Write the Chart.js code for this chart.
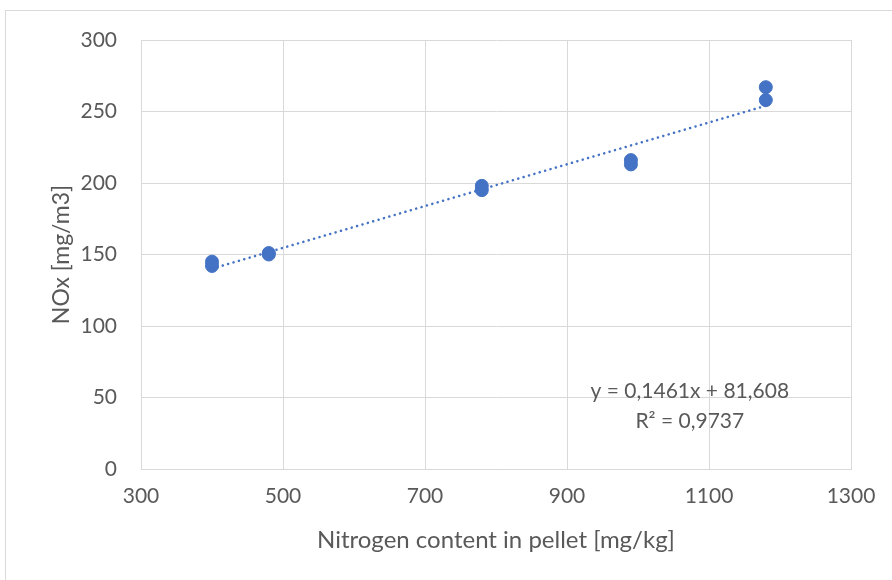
<!DOCTYPE html>
<html>
<head>
<meta charset="utf-8">
<script src="https://cdn.jsdelivr.net/npm/chart.js@4/dist/chart.umd.min.js"></script>
<style>
  html, body { margin: 0; padding: 0; background: #fff; }
  #wrap { position: relative; width: 892px; height: 580px; overflow: hidden; }
  #frame { position: absolute; left: 5px; top: 10px; width: 900px; height: 600px; border: 1px solid #d9d9d9; box-sizing: border-box; }
  canvas { position: absolute; left: 0; top: 0; }
</style>
</head>
<body>
<div id="wrap">
  <div id="frame"></div>
  <canvas id="chart" width="892" height="580"></canvas>
</div>
<script>
/* ── Data ─────────────────────────────────────────────────── */
const nitrogen = [400, 400, 480, 480, 780, 780, 990, 990, 1180, 1180];
const noxValues = [145, 142, 151, 150, 198, 195, 216, 213, 267, 258];

/* ── Linear trend (coefficients as printed on the chart) ──── */
const SLOPE     = 0.1461;
const INTERCEPT = 81.608;
const trendX    = [400, 1180];
const eqLines   = ['y = 0,1461x + 81,608', 'R² = 0,9737'];

const BLUE = '#4472C4';
const GREY = '#595959';
const FONT = 'Lato, "Open Sans", sans-serif';

/* ── Equation label, anchored to data coords ─────────────── */
const eqLabel = {
  id: 'eqLabel',
  afterDatasetsDraw(chart) {
    const { ctx, scales: { x, y } } = chart;
    ctx.save();
    ctx.font = '21px ' + FONT;
    ctx.fillStyle = GREY;
    ctx.textAlign = 'center';
    ctx.textBaseline = 'middle';
    ctx.fillText(eqLines[0], x.getPixelForValue(1073), y.getPixelForValue(54.5));
    ctx.fillText(eqLines[1], x.getPixelForValue(1073), y.getPixelForValue(33.5));
    ctx.restore();
  },
};

new Chart(document.getElementById('chart'), {
  type: 'scatter',
  data: {
    datasets: [
      {
        label: 'NOx',
        data: nitrogen.map((n, i) => ({ x: n, y: noxValues[i] })),
        backgroundColor: BLUE,
        borderColor: BLUE,
        pointRadius: 6.5,
        pointHoverRadius: 6.5,
        order: 2,
      },
      {
        type: 'line',
        label: 'Trend',
        data: trendX.map(v => ({ x: v, y: SLOPE * v + INTERCEPT })),
        borderColor: BLUE,
        borderWidth: 2.5,
        borderDash: [0.1, 5.5],
        borderCapStyle: 'round',
        pointRadius: 0,
        fill: false,
        order: 1,
      },
    ],
  },
  options: {
    responsive: false,
    animation: false,
    events: [],
    layout: { padding: { top: 40, right: 41, left: 0, bottom: 0 } },
    plugins: { legend: { display: false }, tooltip: { enabled: false } },
    scales: {
      x: {
        type: 'linear',
        min: 300,
        max: 1300,
        ticks: { stepSize: 200, color: GREY, font: { family: FONT, size: 21 }, padding: 15, callback: v => String(v) },
        grid: { color: '#d9d9d9', drawTicks: false },
        border: { color: '#d9d9d9' },
        title: {
          display: true,
          text: 'Nitrogen content in pellet [mg/kg]',
          color: GREY,
          font: { family: FONT, size: 24 },
          padding: { top: 0, bottom: 25 },
        },
        afterFit: s => { s.height = 111; },
      },
      y: {
        min: 0,
        max: 300,
        ticks: { stepSize: 50, color: GREY, font: { family: FONT, size: 21 }, padding: 24, callback: v => String(v) },
        grid: { color: '#d9d9d9', drawTicks: false },
        border: { color: '#d9d9d9' },
        title: {
          display: true,
          text: 'NOx [mg/m3]',
          color: GREY,
          font: { family: FONT, size: 23 },
          padding: { top: 48, bottom: 0 },
        },
        afterFit: s => { s.width = 141; },
      },
    },
  },
  plugins: [eqLabel],
});
</script>
</body>
</html>
